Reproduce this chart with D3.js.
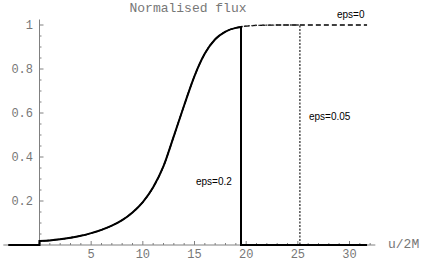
<!DOCTYPE html>
<html lang="en">
<head>
<meta charset="utf-8">
<title>Normalised flux</title>
<style>
  body { margin: 0; background: #fff; }
  svg { display: block; }
  .tick-label { font: 12px "Liberation Mono", "DejaVu Sans Mono", monospace; fill: #777; }
  .eps-label { font: 10px "Liberation Sans", Arial, sans-serif; fill: #000; }
</style>
</head>
<body>
<svg id="chart" width="425" height="263"></svg>
<script src="https://cdn.jsdelivr.net/npm/d3@7/dist/d3.min.js"></script>
<script>
const fluxU = [0, 1, 2, 3, 4, 5, 6, 7, 8, 9, 10, 11, 12, 13, 14, 15, 16, 17, 18, 19, 20, 21, 22, 23, 24, 25, 26, 28, 30, 31.7];
const fluxV = [0.018, 0.021, 0.026, 0.033, 0.042, 0.054, 0.069, 0.088, 0.113, 0.148, 0.195, 0.262, 0.358, 0.495, 0.635,
               0.768, 0.87, 0.935, 0.97, 0.987, 0.995, 0.998, 0.999, 1, 1, 1, 1, 1, 1, 1];
const startU = -3;

// series: label, where the flux drops to zero, flux just before the drop
const epsNames = ["eps=0", "eps=0.05", "eps=0.2"];
const dropU = [null, 25.2, 19.5];
const dropTop = [null, 1, 0.991];

const xTicks = [5, 10, 15, 20, 25, 30];
const yTicks = [0.2, 0.4, 0.6, 0.8, 1];
const yTickText = [".2", ".4", ".6", ".8", "1"];

const svg = d3.select("#chart");
const x = d3.scaleLinear().domain([0, 30]).range([39.5, 349.5]);
const y = d3.scaleLinear().domain([0, 1]).range([245, 25]);
const axisColor = "#808080";

// axes
const gAxis = svg.append("g").attr("stroke", axisColor).attr("stroke-width", 1);
gAxis.append("line")
    .attr("x1", x(-3.5)).attr("x2", x(32.5))
    .attr("y1", y(0)).attr("y2", y(0));
gAxis.append("line")
    .attr("x1", x(0)).attr("x2", x(0))
    .attr("y1", y(0)).attr("y2", y(1.025));

// x ticks point up, minor every 1
gAxis.selectAll(".xt").data(d3.range(1, 33)).enter().append("line")
    .attr("x1", d => x(d)).attr("x2", d => x(d))
    .attr("y1", y(0)).attr("y2", d => y(0) - (d % 5 === 0 ? 4 : 2));
// y ticks point right, minor every 0.05
gAxis.selectAll(".yt").data(d3.range(1, 21).map(i => i * 0.05)).enter().append("line")
    .attr("x1", x(0)).attr("x2", (d, i) => x(0) + ((i + 1) % 4 === 0 ? 4 : 2))
    .attr("y1", d => y(d)).attr("y2", d => y(d));

svg.selectAll(".xl").data(xTicks).enter().append("text")
    .attr("class", "tick-label")
    .attr("x", d => x(d)).attr("y", 258)
    .attr("text-anchor", "middle")
    .text(d => d);

svg.selectAll(".yl").data(yTicks).enter().append("text")
    .attr("class", "tick-label")
    .attr("x", 33).attr("y", d => y(d) + 4)
    .attr("text-anchor", "end")
    .text((d, i) => d === 1 ? "1" : "0" + yTickText[i]);

svg.append("text").attr("class", "tick-label")
    .attr("x", 388).attr("y", 248).style("font-size", "13px")
    .text("u/2M");

svg.append("text").attr("class", "tick-label")
    .attr("x", 188).attr("y", 12).attr("text-anchor", "middle").style("font-size", "13px")
    .text("Normalised flux");

// curves
const smooth = d3.line().x(d => x(d[0])).y(d => y(d[1])).curve(d3.curveMonotoneX);
const flux = fluxU.map((u, i) => [u, fluxV[i]]);

function seriesPath(k) {
    let pts = flux;
    if (dropU[k] !== null) {
        pts = flux.filter(p => p[0] < dropU[k]).concat([[dropU[k], dropTop[k]]]);
    }
    let d = "M" + x(startU) + "," + y(0) + "L" + x(0) + "," + y(0) + smooth(pts).replace(/^M/, "L");
    if (dropU[k] !== null) {
        d += "L" + x(dropU[k]) + "," + y(0) + "L" + x(31.7) + "," + y(0);
    }
    return d;
}

const styles = [
    {stroke: "#000", width: 1.3, dash: "5,3"},
    {stroke: "#333", width: 1.3, dash: "2,1.5"},
    {stroke: "#000", width: 2, dash: null}
];

epsNames.forEach((name, k) => {
    svg.append("path")
        .attr("d", seriesPath(k))
        .attr("fill", "none")
        .attr("stroke", styles[k].stroke)
        .attr("stroke-width", styles[k].width)
        .attr("stroke-dasharray", styles[k].dash);
});

// labels
const labelPos = [[337, 18], [309, 120], [196, 185]];
svg.selectAll(".eps-label").data(epsNames).enter().append("text")
    .attr("class", "eps-label")
    .attr("x", (d, i) => labelPos[i][0]).attr("y", (d, i) => labelPos[i][1])
    .text(d => d);
</script>
</body>
</html>
